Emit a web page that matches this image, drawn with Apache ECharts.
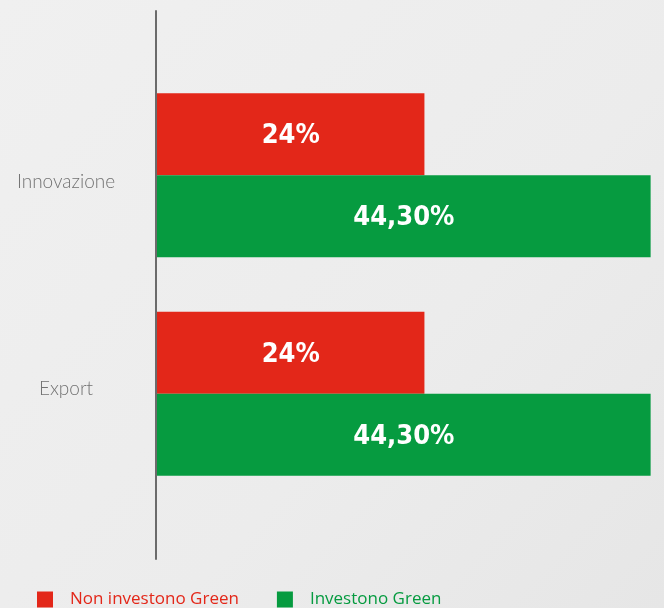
<!DOCTYPE html>
<html>
<head>
<meta charset="utf-8">
<script src="https://cdn.jsdelivr.net/npm/echarts@6/dist/echarts.min.js"></script>
<style>
  html, body { margin: 0; padding: 0; }
  #chart { width: 664px; height: 608px; }
</style>
</head>
<body>
<div id="chart"></div>
<script>
var categories = ['Innovazione', 'Export'];
var nonGreen = [24, 24];
var green = [44.3, 44.3];
var seriesNames = ['Non investono Green', 'Investono Green'];

var RED = '#e32719';
var GREEN = '#069b40';

function fmt(p) {
    var v = p.value;
    return (Number.isInteger(v) ? String(v) : v.toFixed(2).replace('.', ',')) + '%';
}

var myChart = echarts.init(document.getElementById('chart'));

var barLabel = {
    show: true, position: 'inside', formatter: fmt, offset: [0, 2],
    color: '#fff', fontFamily: 'DejaVu Sans Condensed', fontWeight: 'bold', fontSize: 27
};

var catText = { color: '#727272', fontFamily: 'Lato', fontWeight: 300, fontSize: 19 };

myChart.setOption({
    backgroundColor: {
        type: 'linear', x: 0, y: 0, x2: 1, y2: 1,
        colorStops: [
            { offset: 0, color: '#f0f0f0' },
            { offset: 0.6, color: '#ececec' },
            { offset: 1, color: '#e6e6e6' }
        ]
    },
    legend: {
        left: 37,
        top: 591,
        padding: 0,
        itemWidth: 16,
        itemHeight: 16,
        itemGap: 38,
        icon: 'rect',
        textStyle: { fontFamily: 'Open Sans', fontSize: 17, padding: [2, 0, 0, 12] },
        data: [
            { name: seriesNames[0], textStyle: { color: RED } },
            { name: seriesNames[1], textStyle: { color: GREEN } }
        ]
    },
    grid: [
        { left: 157, right: 0, top: 66, height: 437, outerBoundsMode: 'none', containLabel: false },
        { left: 156, right: 0, top: 11, height: 548, outerBoundsMode: 'none', containLabel: false }
    ],
    xAxis: [
        { type: 'value', gridIndex: 0, min: 0, max: 45.5, show: false },
        { type: 'value', gridIndex: 1, min: 0, max: 1, show: false }
    ],
    yAxis: [
        {
            type: 'category',
            gridIndex: 0,
            data: categories,
            inverse: true,
            axisLine: { show: false },
            axisTick: { show: false },
            axisLabel: {
                align: 'center',
                margin: 91,
                color: catText.color,
                fontFamily: catText.fontFamily,
                fontWeight: catText.fontWeight,
                fontSize: catText.fontSize,
                // the original labels sit a little off the band centres
                formatter: function (v, i) { return '{p' + i + '|' + v + '}'; },
                rich: {
                    p0: Object.assign({ padding: [14, 0, 0, 0] }, catText),
                    p1: Object.assign({ padding: [0, 0, 10, 0] }, catText)
                }
            }
        },
        {
            type: 'value',
            gridIndex: 1,
            min: 0,
            max: 1,
            axisLine: { show: true, lineStyle: { color: '#6b6b6b', width: 2 } },
            axisTick: { show: false },
            axisLabel: { show: false },
            splitLine: { show: false }
        }
    ],
    series: [
        {
            name: seriesNames[0],
            type: 'bar',
            data: nonGreen,
            barWidth: 82,
            barGap: 0,
            itemStyle: { color: RED },
            label: barLabel
        },
        {
            name: seriesNames[1],
            type: 'bar',
            data: green,
            barWidth: 82,
            barGap: 0,
            itemStyle: { color: GREEN },
            label: barLabel
        }
    ]
});
</script>
</body>
</html>
